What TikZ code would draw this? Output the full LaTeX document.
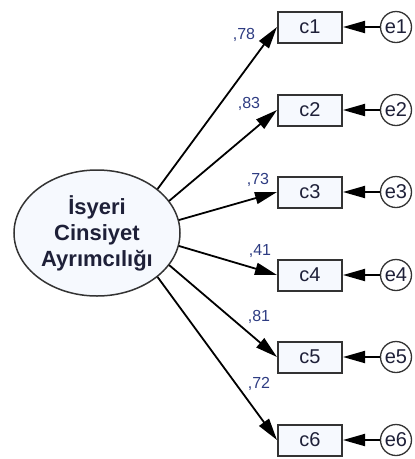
\documentclass[tikz,border=0pt]{standalone}
\usepackage{fontspec}
\setmainfont{Liberation Sans}
\usetikzlibrary{arrows.meta,shapes.geometric}
\definecolor{boxfill}{HTML}{F6F9FE}
\definecolor{edgecol}{HTML}{333333}
\definecolor{txtcol}{HTML}{1E2038}
\definecolor{loadcol}{HTML}{2E3C82}

\begin{document}
\begin{tikzpicture}[x=1pt,y=-1pt,
    obsbox/.style={draw=edgecol,line width=2pt,fill=boxfill,minimum width=64pt,minimum height=31pt,
        inner sep=0pt,text=txtcol,font=\fontsize{20}{22}\selectfont},
    errcirc/.style={circle,draw=edgecol,line width=1.3pt,fill=white,minimum size=31pt,
        inner sep=0pt,text=txtcol,font=\fontsize{20}{22}\selectfont},
    loadarrow/.style={draw=black,line width=1.8pt,-{Triangle[length=22pt,width=12pt]}},
    loadlab/.style={text=loadcol,inner sep=0pt,font=\fontsize{16}{17}\selectfont}]
    \useasboundingbox (0,0) rectangle (415,459);
    \node[ellipse,draw=edgecol,line width=1.5pt,fill=boxfill,minimum width=166pt,minimum height=126pt,
        inner sep=0pt,align=center,text=txtcol,font=\bfseries\fontsize{22}{26}\selectfont]
        (isy) at (97,233) {İsyeri\\Cinsiyet\\Ayrımcılığı};
    % indicators, errors and loadings
    \foreach \i/\y/\ang/\lab/\lx/\ly in {1/27/36/78/244/35, 2/110/24/83/249/104, 3/192/9/73/258/180,
        4/275/-9/41/260/251, 5/357/-24/81/259/317, 6/440/-36/72/259/384}
    {
        \node[obsbox] (c\i) at (310,\y) {c\i};
        \node[errcirc] (e\i) at (396,\y) {e\i};
        \draw[loadarrow] (isy.\ang) -- (c\i.west);
        \draw[loadarrow] (e\i) -- (c\i);
        \node[loadlab] (l\i) at (\lx,\ly) {,\lab};
    }
\end{tikzpicture}
\end{document}
